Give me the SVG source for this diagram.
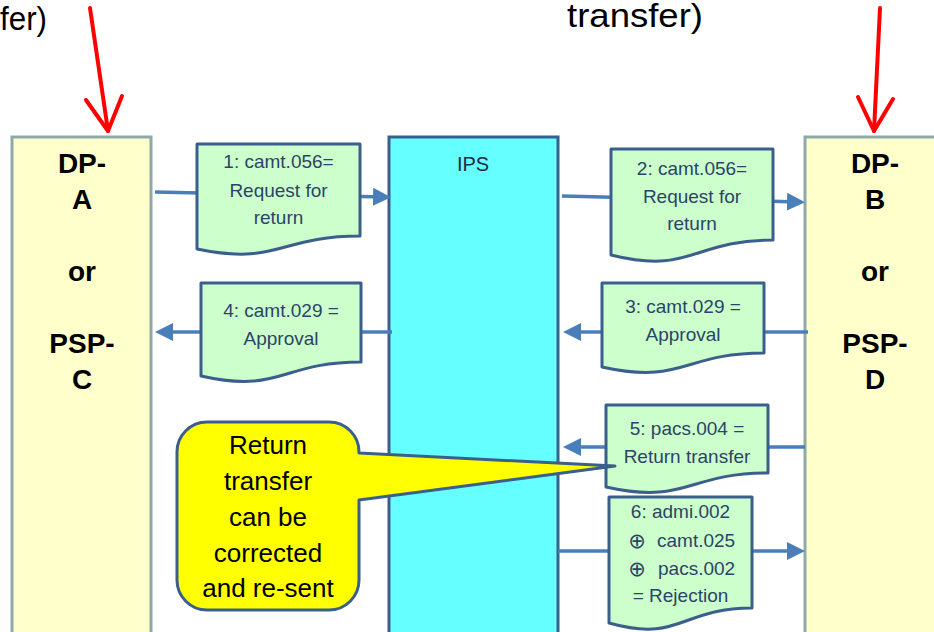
<svg xmlns="http://www.w3.org/2000/svg" width="934" height="632" viewBox="0 0 934 632">
<defs>
<style>
.party{fill:#FFFFCC;stroke:#8FA8AA;stroke-width:3}
.ips{fill:#66FFFF;stroke:#3B5F8D;stroke-width:3}
.doc{fill:#CCFFCC;stroke:#3B5F8D;stroke-width:3;stroke-linejoin:round}
.conn{stroke:#4A7EBB;stroke-width:3.5;fill:none}
.red{stroke:#FF0000;stroke-width:4;fill:none;stroke-linecap:round;stroke-linejoin:round}
.pt{font-family:"Liberation Sans",Arial,sans-serif;font-weight:bold;font-size:28px;fill:#000;text-anchor:middle}
.dt{font-family:"Liberation Sans","DejaVu Sans",Arial,sans-serif;font-size:19px;fill:#2B4466;text-anchor:middle}
.ds{font-family:"Liberation Sans",Arial,sans-serif;font-size:19px;fill:#2B4466}
.op{font-family:"DejaVu Sans",sans-serif;font-size:21px;fill:#2B4466;text-anchor:middle}
.ct{font-family:"Liberation Sans",Arial,sans-serif;font-size:26px;fill:#000;text-anchor:middle}
.top{font-family:"Liberation Sans",Arial,sans-serif;font-size:34px;fill:#000}
</style>
<marker id="ah" viewBox="0 0 18 18" refX="12" refY="9" markerWidth="18" markerHeight="18" markerUnits="userSpaceOnUse" orient="auto">
<path d="M0,0 L18,9 L0,18 Z" fill="#4A7EBB"/>
</marker>
</defs>
<rect width="934" height="632" fill="#FFFFFF"/>

<text class="top" x="0" y="30" textLength="47" lengthAdjust="spacingAndGlyphs">fer)</text>
<text class="top" x="567" y="27" textLength="136" lengthAdjust="spacingAndGlyphs">transfer)</text>

<g id="red-arrows">
<line class="red" x1="90" y1="8" x2="108" y2="131"/>
<polyline class="red" points="86,100 108,131 122,96"/>
<line class="red" x1="880" y1="8" x2="874" y2="131"/>
<polyline class="red" points="858,97 874,131 893,99"/>
</g>

<g id="party-left">
<rect class="party" x="12" y="137" width="139" height="520"/>
<text class="pt" x="82" y="173">DP-</text>
<text class="pt" x="82" y="209">A</text>
<text class="pt" x="82" y="281">or</text>
<text class="pt" x="82" y="353">PSP-</text>
<text class="pt" x="82" y="389">C</text>
</g>

<g id="party-right">
<rect class="party" x="805" y="137" width="140" height="520"/>
<text class="pt" x="875" y="173">DP-</text>
<text class="pt" x="875" y="209">B</text>
<text class="pt" x="875" y="281">or</text>
<text class="pt" x="875" y="353">PSP-</text>
<text class="pt" x="875" y="389">D</text>
</g>

<g id="ips">
<rect class="ips" x="389" y="137" width="169" height="520"/>
<text x="473" y="171" font-family="Liberation Sans, Arial, sans-serif" font-size="20" fill="#1C2B45" text-anchor="middle">IPS</text>
</g>

<g id="connectors">
<line class="conn" x1="155" y1="192" x2="385" y2="197" marker-end="url(#ah)"/>
<line class="conn" x1="562" y1="196" x2="799" y2="202" marker-end="url(#ah)"/>
<line class="conn" x1="392" y1="332" x2="161" y2="332" marker-end="url(#ah)"/>
<line class="conn" x1="808" y1="332" x2="569" y2="332" marker-end="url(#ah)"/>
<line class="conn" x1="805" y1="447" x2="569" y2="447" marker-end="url(#ah)"/>
<line class="conn" x1="558" y1="551" x2="799" y2="551" marker-end="url(#ah)"/>
</g>

<g id="msg1">
<path class="doc" d="M197,144 H360 V236 C278.5,236 278.5,266 197,249 Z"/>
<text class="dt" x="278.5" y="168">1: camt.056=</text>
<text class="dt" x="278.5" y="197">Request for</text>
<text class="dt" x="278.5" y="224">return</text>
</g>

<g id="msg2">
<path class="doc" d="M611,149 H773 V240 C692,240 692,275 611,255 Z"/>
<text class="dt" x="692" y="175">2: camt.056=</text>
<text class="dt" x="692" y="203">Request for</text>
<text class="dt" x="692" y="230">return</text>
</g>

<g id="msg3">
<path class="doc" d="M602,283 H764 V353 C683,353 683,385 602,367 Z"/>
<text class="dt" x="683" y="313">3: camt.029 =</text>
<text class="dt" x="683" y="341">Approval</text>
</g>

<g id="msg4">
<path class="doc" d="M201,283 H361 V362 C281,362 281,394 201,376 Z"/>
<text class="dt" x="281" y="317">4: camt.029 =</text>
<text class="dt" x="281" y="345">Approval</text>
</g>

<g id="msg5">
<path class="doc" d="M606,405 H768 V473 C687,473 687,505 606,487 Z"/>
<text class="dt" x="687" y="435">5: pacs.004 =</text>
<text class="dt" x="687" y="463">Return transfer</text>
</g>

<g id="msg6">
<path class="doc" d="M609,497 H752 V608 C680.5,608 680.5,643 609,623 Z"/>
<text class="dt" x="680.5" y="518">6: admi.002</text>
<text class="op" x="637" y="548">⊕</text>
<text class="ds" x="657" y="547">camt.025</text>
<text class="op" x="637" y="576">⊕</text>
<text class="ds" x="658" y="575">pacs.002</text>
<text class="dt" x="680.5" y="602">= Rejection</text>
</g>

<g id="callout">
<path d="M207,422 H329 A30,30 0 0 1 359,452 V453 L615,466 L359,500 V580 A30,30 0 0 1 329,610 H207 A30,30 0 0 1 177,580 V452 A30,30 0 0 1 207,422 Z" fill="#FFFF00" stroke="#3B5F8D" stroke-width="3" stroke-linejoin="round"/>
<text class="ct" x="268" y="454">Return</text>
<text class="ct" x="268" y="490">transfer</text>
<text class="ct" x="268" y="526">can be</text>
<text class="ct" x="268" y="562">corrected</text>
<text class="ct" x="268" y="597">and re-sent</text>
</g>
</svg>
